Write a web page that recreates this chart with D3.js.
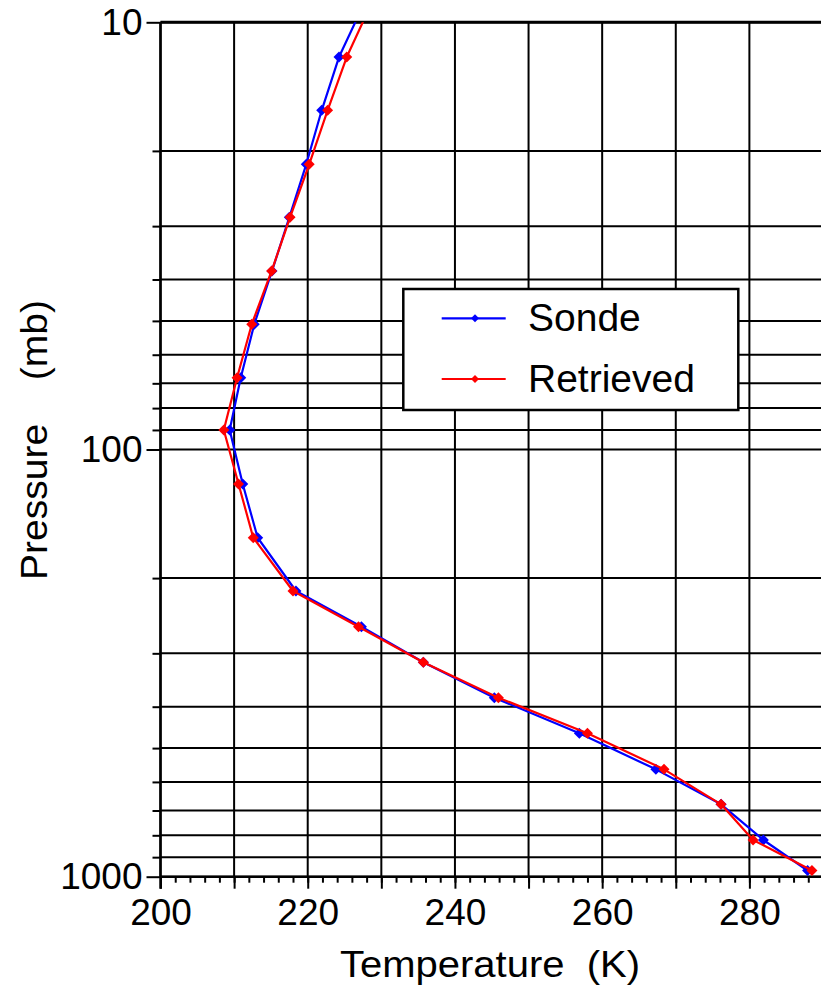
<!DOCTYPE html>
<html>
<head>
<meta charset="utf-8">
<script src="https://cdn.jsdelivr.net/npm/d3@7/dist/d3.min.js"></script>
<style>
  body { margin: 0; background: #fff; }
  svg { display: block; }
  text { font-family: "Liberation Sans", Arial, Helvetica, sans-serif; fill: #000; }
</style>
</head>
<body>
<svg id="chart" width="821" height="990"></svg>
<script>
// Temperature profile: radiosonde vs. retrieved, pressure levels in mb
const pressure  = [9.0, 12.06, 16.07, 21.5, 28.6, 38.2, 50.9, 67.9, 90.0, 120.4, 160.9, 214.4, 259.9, 314.8, 381, 461.5, 560.7, 677, 820.4, 967];
const sonde     = [227.7, 224.25, 221.9, 219.8, 217.5, 215.15, 212.74, 210.9, 209.4, 211.17, 213.2, 218.4, 227.3, 235.7, 245.35, 256.9, 267.3, 276.15, 281.9, 287.9];
const retrieved = [228.7, 225.3, 222.7, 220.2, 217.6, 215.1, 212.4, 210.4, 208.6, 210.6, 212.6, 218.0, 226.9, 235.7, 245.9, 258.0, 268.4, 276.15, 280.5, 288.5];

const seriesNames  = ["Sonde", "Retrieved"];
const seriesColors = ["#0000ff", "#ff0000"];

// Axis tick values
const xGrid       = [200, 210, 220, 230, 240, 250, 260, 270, 280, 290];
const xLabelTicks = [200, 220, 240, 260, 280];
const yMajor      = [10, 100, 1000];
const yMinor      = [20, 30, 40, 50, 60, 70, 80, 90, 200, 300, 400, 500, 600, 700, 800, 900];

const pLeft = 160.5, pRight = 823, pTop = 22.3, pBottom = 876.7;

const x = d3.scaleLinear().domain([200, 290]).range([pLeft, pRight]);
const y = d3.scaleLog().domain([10, 1000]).range([pTop, pBottom]);

const svg = d3.select("#chart");

svg.append("defs").append("clipPath").attr("id", "plot-clip")
  .append("rect").attr("x", pLeft).attr("y", pTop)
  .attr("width", pRight - pLeft).attr("height", pBottom - pTop);

// Grid
const grid = svg.append("g").attr("stroke", "#000").attr("stroke-width", 2);
grid.selectAll("line.h").data(yMajor.concat(yMinor)).join("line")
  .attr("class", "h")
  .attr("x1", pLeft).attr("x2", pRight)
  .attr("y1", d => y(d)).attr("y2", d => y(d));
grid.selectAll("line.v").data(xGrid).join("line")
  .attr("class", "v")
  .attr("x1", d => x(d)).attr("x2", d => x(d))
  .attr("y1", pTop).attr("y2", pBottom);
// heavier top edge
grid.append("line").attr("x1", pLeft).attr("x2", pRight)
  .attr("y1", y(10)).attr("y2", y(10)).attr("stroke-width", 3);

// Bottom axis: minor ticks every 2 K, major ticks with labels every 20 K
const fontSize = 37;
svg.append("g").attr("transform", `translate(0,${pBottom})`)
  .call(d3.axisBottom(x).tickValues(d3.range(200, 291, 2)).tickSize(6).tickFormat(""))
  .call(g => g.select(".domain").remove())
  .call(g => g.selectAll("line").attr("stroke", "#000").attr("stroke-width", 2));

svg.append("g").attr("transform", `translate(0,${pBottom})`)
  .call(d3.axisBottom(x).tickValues(xGrid).tickSize(12).tickPadding(10)
    .tickFormat(d => xLabelTicks.includes(d) ? d : ""))
  .call(g => g.select(".domain").attr("stroke", "#000").attr("stroke-width", 2.5).attr("d", `M${pLeft},0H${pRight}`))
  .call(g => g.selectAll("line").attr("stroke", "#000").attr("stroke-width", 2))
  .call(g => g.selectAll("text").attr("font-size", fontSize).attr("font-family", null));

// Left axis: log ticks
svg.append("g").attr("transform", `translate(${pLeft},0)`)
  .call(d3.axisLeft(y).tickValues(yMinor).tickSize(8).tickFormat(""))
  .call(g => g.select(".domain").remove())
  .call(g => g.selectAll("line").attr("stroke", "#000").attr("stroke-width", 2));

svg.append("g").attr("transform", `translate(${pLeft},0)`)
  .call(d3.axisLeft(y).tickValues(yMajor).tickSize(14).tickPadding(4).tickFormat(d3.format("d")))
  .call(g => g.select(".domain").attr("stroke", "#000").attr("stroke-width", 2.5).attr("d", `M0,${pTop}V${pBottom + 12}`))
  .call(g => g.selectAll("line").attr("stroke", "#000").attr("stroke-width", 2))
  .call(g => g.selectAll("text").attr("font-size", fontSize).attr("font-family", null));

// Axis titles
svg.append("text")
  .attr("x", 490).attr("y", 977)
  .attr("text-anchor", "middle").attr("font-size", fontSize)
  .attr("textLength", 300).attr("lengthAdjust", "spacingAndGlyphs")
  .style("white-space", "pre")
  .text("Temperature  (K)");

svg.append("text")
  .attr("transform", "translate(47,440) rotate(-90)")
  .attr("text-anchor", "middle").attr("font-size", fontSize)
  .attr("textLength", 280).attr("lengthAdjust", "spacingAndGlyphs")
  .style("white-space", "pre")
  .text("Pressure    (mb)");

// Profiles
const diamond = (cx, cy, w, h) => `M${cx},${cy - h}L${cx + w},${cy}L${cx},${cy + h}L${cx - w},${cy}Z`;
const series = [sonde, retrieved];
const plot = svg.append("g").attr("clip-path", "url(#plot-clip)");

series.forEach((temps, i) => {
  const pts = temps.map((t, k) => [t, pressure[k]]);
  const line = d3.line().x(d => x(d[0])).y(d => y(d[1]));
  const g = plot.append("g");
  g.append("path").attr("d", line(pts))
    .attr("fill", "none").attr("stroke", seriesColors[i])
    .attr("stroke-width", 2.2).attr("stroke-linejoin", "round");
  g.selectAll("path.m").data(pts).join("path")
    .attr("class", "m")
    .attr("d", d => diamond(x(d[0]), y(d[1]), 5.5, 5.5))
    .attr("fill", seriesColors[i]);
});

// Legend
const legend = svg.append("g");
legend.append("rect")
  .attr("x", 403.3).attr("y", 289).attr("width", 335).attr("height", 121)
  .attr("fill", "#fff").attr("stroke", "#000").attr("stroke-width", 2.5);
const rows = [318.3, 379];
seriesNames.forEach((name, i) => {
  const ry = rows[i];
  legend.append("line").attr("x1", 441.7).attr("x2", 505.7)
    .attr("y1", ry).attr("y2", ry)
    .attr("stroke", seriesColors[i]).attr("stroke-width", 2.2);
  legend.append("path").attr("d", diamond(475, ry, 4, 4)).attr("fill", seriesColors[i]);
  legend.append("text").attr("x", 528).attr("y", ry + 12.5)
    .attr("font-size", 39).text(name);
});
</script>
</body>
</html>
